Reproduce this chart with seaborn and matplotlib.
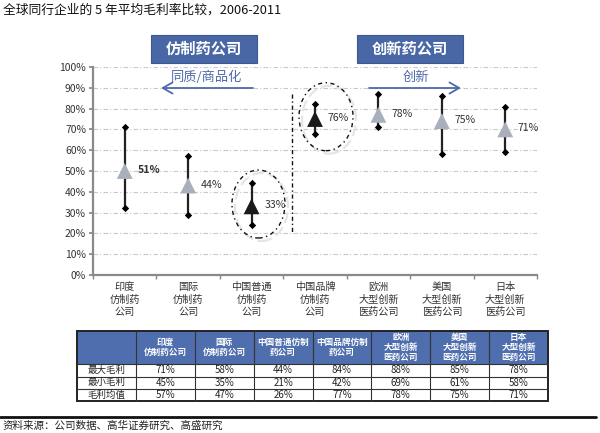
import numpy as np
import pandas as pd
import matplotlib
matplotlib.use("Agg")
import matplotlib.pyplot as plt
import seaborn as sns
from matplotlib.patches import Ellipse, Rectangle, FancyArrowPatch
from matplotlib.lines import Line2D

sns.set_theme(style="white")
plt.rcParams['font.family'] = ['Noto Sans CJK SC', 'DejaVu Sans']

# ---------------- data ----------------
categories = ["印度\n仿制药\n公司", "国际\n仿制药\n公司", "中国普通\n仿制药\n公司", "中国品牌\n仿制药\n公司",
              "欧洲\n大型创新\n医药公司", "美国\n大型创新\n医药公司", "日本\n大型创新\n医药公司"]
max_vals = [71, 57, 44, 82, 87, 86, 81]
min_vals = [32, 29, 24, 68, 71, 58, 59]
mean_vals = [50, 43, 33, 75, 77, 74, 70]
mean_labels = ["51%", "44%", "33%", "76%", "78%", "75%", "71%"]
is_china = [False, False, True, True, False, False, False]
yticks = [0, 10, 20, 30, 40, 50, 60, 70, 80, 90, 100]

table_header = ["", "印度\n仿制药公司", "国际\n仿制药公司", "中国普通仿制\n药公司", "中国品牌仿制\n药公司",
                "欧洲\n大型创新\n医药公司", "美国\n大型创新\n医药公司", "日本\n大型创新\n医药公司"]
row_names = ["最大毛利", "最小毛利", "毛利均值"]
tbl_max = ["71%", "58%", "44%", "84%", "88%", "85%", "78%"]
tbl_min = ["45%", "35%", "21%", "42%", "69%", "61%", "58%"]
tbl_mean = ["57%", "47%", "26%", "77%", "78%", "75%", "71%"]

title = "全球同行企业的 5 年平均毛利率比较，2006-2011"
source = "资料来源：公司数据、高华证券研究、高盛研究"

W, H = 600, 433
fig = plt.figure(figsize=(6, 4.33), dpi=100)
fig.patch.set_facecolor("white")

def fx(px):
    return px / W

def fy(py):
    return 1 - py / H

ax = fig.add_axes([fx(93), fy(275), fx(537) - fx(93), fy(67) - fy(275)])

df = pd.DataFrame({"cat": categories, "max": max_vals, "min": min_vals,
                   "mean": mean_vals, "group": ["china" if c else "other" for c in is_china]})
pos = np.arange(len(categories))

# range lines
ax.vlines(pos, df["min"], df["max"], color="#222222", lw=1.6, zorder=3)
# end markers
sns.scatterplot(data=df, x="cat", y="max", marker="D", s=14, color="black", edgecolor="black",
                linewidth=0, ax=ax, zorder=4, legend=False)
sns.scatterplot(data=df, x="cat", y="min", marker="D", s=14, color="black", edgecolor="black",
                linewidth=0, ax=ax, zorder=4, legend=False)
# means
sns.scatterplot(data=df, x="cat", y="mean", hue="group", marker="^", s=130,
                palette={"china": "#1a1a1a", "other": "#a9b0bb"}, edgecolor="none",
                ax=ax, zorder=5, legend=False)

for i, (m, lab) in enumerate(zip(mean_vals, mean_labels)):
    ax.text(i + 0.2, m + 0.5, lab, fontsize=7.6, va="center", ha="left",
            color="#333333", fontweight="bold" if i == 0 else "normal", zorder=6)

ax.set_xlim(-0.5, len(categories) - 0.5)
ax.set_ylim(0, 100)
ax.set_yticks(yticks)
ax.set_yticklabels([f"{v}%" for v in yticks], fontsize=7.5, color="#333333")
ax.set_xticks(pos)
ax.set_xticklabels(categories, fontsize=7.3, color="#333333", linespacing=1.3)
ax.set_xlabel("")
ax.set_ylabel("")
ax.tick_params(axis="x", length=0, pad=5)
ax.tick_params(axis="y", length=3, color="#888888", pad=2, left=True)
ax.set_xticks(np.arange(-0.5, len(categories) + 0.5, 1), minor=True)
ax.tick_params(axis="x", which="minor", length=3, color="#888888", bottom=True)
for v in yticks[1:]:
    ax.axhline(v, color="#c8c8c8", lw=0.8, ls=(0, (4, 2, 1, 2)), zorder=1)
for s in ["top", "right"]:
    ax.spines[s].set_visible(False)
for s in ["left", "bottom"]:
    ax.spines[s].set_color("#8a8a8a")
    ax.spines[s].set_linewidth(1.6)

# divider line and ellipses (figure coords)
fig.add_artist(Line2D([fx(292), fx(292)], [fy(94), fy(233)], color="#111111", lw=1.0,
                      ls=(0, (3, 2, 1, 2))))
for cx, cy, w, h in [(258.5, 204, 53, 68), (326, 116.7, 54, 68)]:
    fig.add_artist(Ellipse((fx(cx + 3), fy(cy + 3)), fx(w), h / H, fill=False,
                           ec="#e1e6ec", lw=1.6, ls=(0, (5, 2))))
    fig.add_artist(Ellipse((fx(cx), fy(cy)), fx(w), h / H, fill=False,
                           ec="#111111", lw=1.0, ls=(0, (3, 2.5, 1, 2.5))))

# header boxes
for x0, x1, txt in [(151, 257, "仿制药公司"), (357, 463, "创新药公司")]:
    fig.add_artist(Rectangle((fx(x0), fy(63)), fx(x1 - x0), 28 / H, fc="#4a67a5", ec="#3b5893",
                             lw=0.8))
    fig.text(fx((x0 + x1) / 2), fy(49), txt, color="white", fontsize=11, ha="center",
             va="center", fontweight="bold")

arrow_col = "#4d6aaa"
fig.text(fx(207), fy(77), "同质/商品化", color=arrow_col, fontsize=9.5, ha="center", va="center")
fig.text(fx(415.5), fy(77), "创新", color=arrow_col, fontsize=9.5, ha="center", va="center")
for p0, p1 in [((253, 88), (161, 88)), ((369, 88), (461, 88))]:
    fig.add_artist(FancyArrowPatch((fx(p0[0]), fy(p0[1])), (fx(p1[0]), fy(p1[1])),
                                   transform=fig.transFigure,
                                   arrowstyle="->,head_length=7,head_width=4",
                                   mutation_scale=1, color=arrow_col, lw=1.3,
                                   shrinkA=0, shrinkB=0))

# title
fig.text(fx(3), fy(10), title, fontsize=9.2, color="#111111", ha="left", va="center")

# table
tx0, tx1 = 77, 548
ncol = len(table_header)
cw = (tx1 - tx0) / ncol
row_y = [331, 364, 376.5, 389, 401]
hdr_col = "#4f6eae"
fig.add_artist(Rectangle((fx(tx0), fy(row_y[1])), fx(tx1 - tx0), (row_y[1] - row_y[0]) / H,
                         fc=hdr_col, ec="none"))
for j, h in enumerate(table_header):
    fig.text(fx(tx0 + cw * (j + 0.5)), fy((row_y[0] + row_y[1]) / 2), h, color="white",
             fontsize=6.2, ha="center", va="center", fontweight="bold", linespacing=1.2)
rows = [tbl_max, tbl_min, tbl_mean]
for r, (name, vals) in enumerate(zip(row_names, rows)):
    yc = fy((row_y[r + 1] + row_y[r + 2]) / 2)
    fig.text(fx(tx0 + cw * 0.5), yc, name, fontsize=6.8, ha="center", va="center", color="#222222")
    for j, v in enumerate(vals):
        fig.text(fx(tx0 + cw * (j + 1.5)), yc, v, fontsize=7, ha="center", va="center",
                 color="#222222")
for yy in row_y[1:-1]:
    fig.add_artist(Line2D([fx(tx0), fx(tx1)], [fy(yy), fy(yy)], color="#333333", lw=0.8))
for j in range(1, ncol):
    xx = tx0 + cw * j
    fig.add_artist(Line2D([fx(xx), fx(xx)], [fy(row_y[0]), fy(row_y[-1])], color="#333333", lw=0.8))
fig.add_artist(Rectangle((fx(tx0), fy(row_y[-1])), fx(tx1 - tx0), (row_y[-1] - row_y[0]) / H,
                         fill=False, ec="#222222", lw=1.4))

# footer
fig.add_artist(Line2D([0, fx(596)], [fy(416.5), fy(416.5)], color="#111111", lw=2.0))
fig.text(fx(3), fy(426), source, fontsize=7.6, style="italic", color="#222222", ha="left",
         va="center")

fig.savefig("out.png", dpi=100, facecolor="white")
